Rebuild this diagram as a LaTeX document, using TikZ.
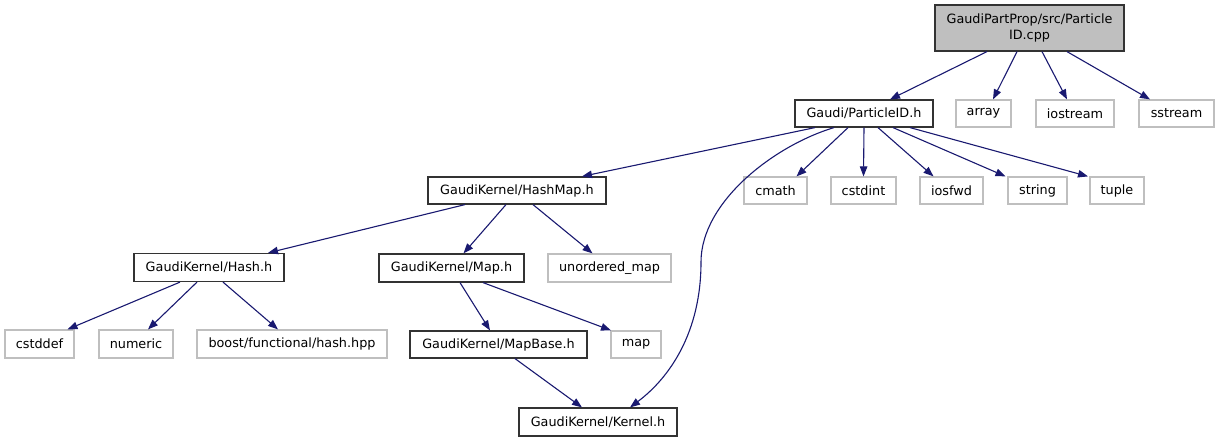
\documentclass[tikz,border=0pt]{standalone}
\usepackage{fontspec}
\setmainfont{DejaVu Sans}
\usetikzlibrary{arrows.meta}
\definecolor{edgeblue}{HTML}{191970}
\definecolor{extgray}{HTML}{BFBFBF}
\definecolor{rootfill}{HTML}{BFBFBF}
\tikzset{
  box/.style={rectangle, draw=black!80, line width=1.2pt, inner sep=0pt, minimum height=27pt, font=\fontsize{12.8}{16.5}\selectfont},
  extbox/.style={box, draw=extgray},
  rootbox/.style={box, fill=rootfill, draw=black!80, align=center, minimum height=46pt},
  dep/.style={draw=edgeblue, line width=1.1pt, -{Triangle[length=10pt,width=7.5pt,fill=edgeblue]}}
}
\begin{document}
\begin{tikzpicture}[x=1pt,y=-1pt]
\useasboundingbox (0,0) rectangle (1220,442);
% row 0
\node[rootbox, minimum width=189pt] (root) at (1029.5,28) {GaudiPartProp/src/Particle\\ID.cpp};
% row 1
\node[box, minimum width=138pt] (pid) at (864,113.5) {Gaudi/ParticleID.h};
\node[extbox, minimum width=55pt] (array) at (983.5,113.5) {array};
\node[extbox, minimum width=78pt] (iostream) at (1075,113.5) {iostream};
\node[extbox, minimum width=75pt] (sstream) at (1176.5,113.5) {sstream};
% row 2
\node[box, minimum width=178pt] (hashmap) at (517,190.5) {GaudiKernel/HashMap.h};
\node[extbox, minimum width=63pt] (cmath) at (775.5,190.5) {cmath};
\node[extbox, minimum width=65pt] (cstdint) at (863.5,190.5) {cstdint};
\node[extbox, minimum width=63pt] (iosfwd) at (951.5,190.5) {iosfwd};
\node[extbox, minimum width=59pt] (string) at (1037.5,190.5) {string};
\node[extbox, minimum width=54pt] (tuple) at (1117,190.5) {tuple};
% row 3
\node[box, minimum width=150pt, minimum height=28pt] (hash) at (209,267.5) {GaudiKernel/Hash.h};
\node[box, minimum width=145pt, minimum height=28pt] (map) at (451.5,268) {GaudiKernel/Map.h};
\node[extbox, minimum width=123pt, minimum height=28pt] (umap) at (609.5,268) {unordered\_map};
% row 4
\node[extbox, minimum width=69pt, minimum height=28pt] (cstddef) at (39.5,344) {cstddef};
\node[extbox, minimum width=74pt, minimum height=28pt] (numeric) at (136,344) {numeric};
\node[extbox, minimum width=190pt, minimum height=28pt] (boost) at (292,344) {boost/functional/hash.hpp};
\node[box, minimum width=177pt] (mapbase) at (498.5,344.5) {GaudiKernel/MapBase.h};
\node[extbox, minimum width=50pt] (stdmap) at (636,344.5) {map};
% row 5
\node[box, minimum width=158pt, minimum height=28pt] (kernel) at (598,422) {GaudiKernel/Kernel.h};
\coordinate (kmid) at (701,262);
% edges from root
\draw[dep] ([xshift=-42.5pt]root.south) -- ([xshift=26pt]pid.north);
\draw[dep] ([xshift=-12.5pt]root.south) -- ([xshift=9.5pt]array.north);
\draw[dep] ([xshift=12.5pt]root.south) -- ([xshift=-8pt]iostream.north);
\draw[dep] ([xshift=37.5pt]root.south) -- ([xshift=-26.5pt]sstream.north);
% edges from ParticleID
\draw[dep] ([xshift=-49pt]pid.south) -- ([xshift=65pt]hashmap.north);
\draw[dep] ([xshift=-30pt]pid.south) .. controls ++(-60,18) and ++(0,-60) .. (kmid) .. controls ++(0,70) and ++(40,-30) .. ([xshift=32pt]kernel.north);
\draw[dep] ([xshift=-16pt]pid.south) -- ([xshift=21pt]cmath.north);
\draw[dep] (pid.south) -- (cstdint.north);
\draw[dep] ([xshift=14pt]pid.south) -- ([xshift=-18pt]iosfwd.north);
\draw[dep] ([xshift=29pt]pid.south) -- ([xshift=-32pt]string.north);
\draw[dep] ([xshift=46pt]pid.south) -- ([xshift=-29pt]tuple.north);
% edges from HashMap
\draw[dep] ([xshift=-52pt]hashmap.south) -- ([xshift=59pt]hash.north);
\draw[dep] ([xshift=-11pt]hashmap.south) -- ([xshift=12pt]map.north);
\draw[dep] ([xshift=16pt]hashmap.south) -- ([xshift=-17pt]umap.north);
% edges from Hash
\draw[dep] ([xshift=-29pt]hash.south) -- ([xshift=28pt]cstddef.north);
\draw[dep] ([xshift=-12pt]hash.south) -- ([xshift=12pt]numeric.north);
\draw[dep] ([xshift=14pt]hash.south) -- ([xshift=-14pt]boost.north);
% edges from Map
\draw[dep] ([xshift=8.5pt]map.south) -- ([xshift=-8.5pt]mapbase.north);
\draw[dep] ([xshift=31.5pt]map.south) -- ([xshift=-25pt]stdmap.north);
% MapBase -> Kernel
\draw[dep] ([xshift=16.5pt]mapbase.south) -- ([xshift=-16pt]kernel.north);
\end{tikzpicture}
\end{document}
